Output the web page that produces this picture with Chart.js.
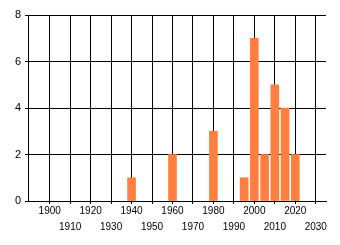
<!DOCTYPE html>
<html><head><meta charset="utf-8">
<script src="https://cdn.jsdelivr.net/npm/chart.js@4/dist/chart.umd.min.js"></script>
<style>html,body{margin:0;padding:0;background:#fff}#w{width:340px;height:245px}</style>
</head><body><div id="w"><canvas id="c"></canvas></div>
<script>
const years = [1940, 1960, 1980, 1995, 2000, 2005, 2010, 2015, 2020];
const counts = [1, 2, 3, 1, 7, 2, 5, 4, 2];
const xTicks = [1900, 1910, 1920, 1930, 1940, 1950, 1960, 1970, 1980, 1990, 2000, 2010, 2020, 2030];
const yTicks = [0, 2, 4, 6, 8];

Chart.defaults.font.family = '"Liberation Sans", Arial, sans-serif';
Chart.defaults.font.size = 10;
Chart.defaults.color = '#000';

new Chart(document.getElementById('c'), {
  type: 'bar',
  data: {
    datasets: [{
      data: years.map((y, i) => ({x: y, y: counts[i]})),
      backgroundColor: '#FF7F40',
      borderWidth: 0,
      barThickness: 8
    }]
  },
  options: {
    animation: false,
    responsive: true,
    maintainAspectRatio: false,
    plugins: {legend: {display: false}, tooltip: {enabled: false}},
    layout: {padding: {left: 0, right: 14, top: 15, bottom: 0}},
    scales: {
      x: {
        type: 'linear',
        offset: false,
        min: 1889.4,
        max: 2035,
        afterBuildTicks: s => { s.ticks = xTicks.map(v => ({value: v})); },
        afterFit: s => { s.height = 44; },
        ticks: {
          autoSkip: false, maxRotation: 0, minRotation: 0, padding: -1,
          font: {size: 10, lineHeight: 1.6},
          callback: (v) => (Math.round(v / 10) % 2 === 0) ? [String(v), ''] : ['', String(v)]
        },
        grid: {offset: false, color: '#000', lineWidth: 1, tickLength: 3, drawOnChartArea: true},
        border: {color: '#000', width: 1}
      },
      y: {
        min: 0, max: 8,
        afterBuildTicks: s => { s.ticks = yTicks.map(v => ({value: v})); },
        afterFit: s => { s.width = 28; },
        ticks: {padding: 4, font: {size: 11}},
        grid: {color: '#000', lineWidth: 1, tickLength: 3},
        border: {color: '#000', width: 1}
      }
    }
  }
});
</script></body></html>
